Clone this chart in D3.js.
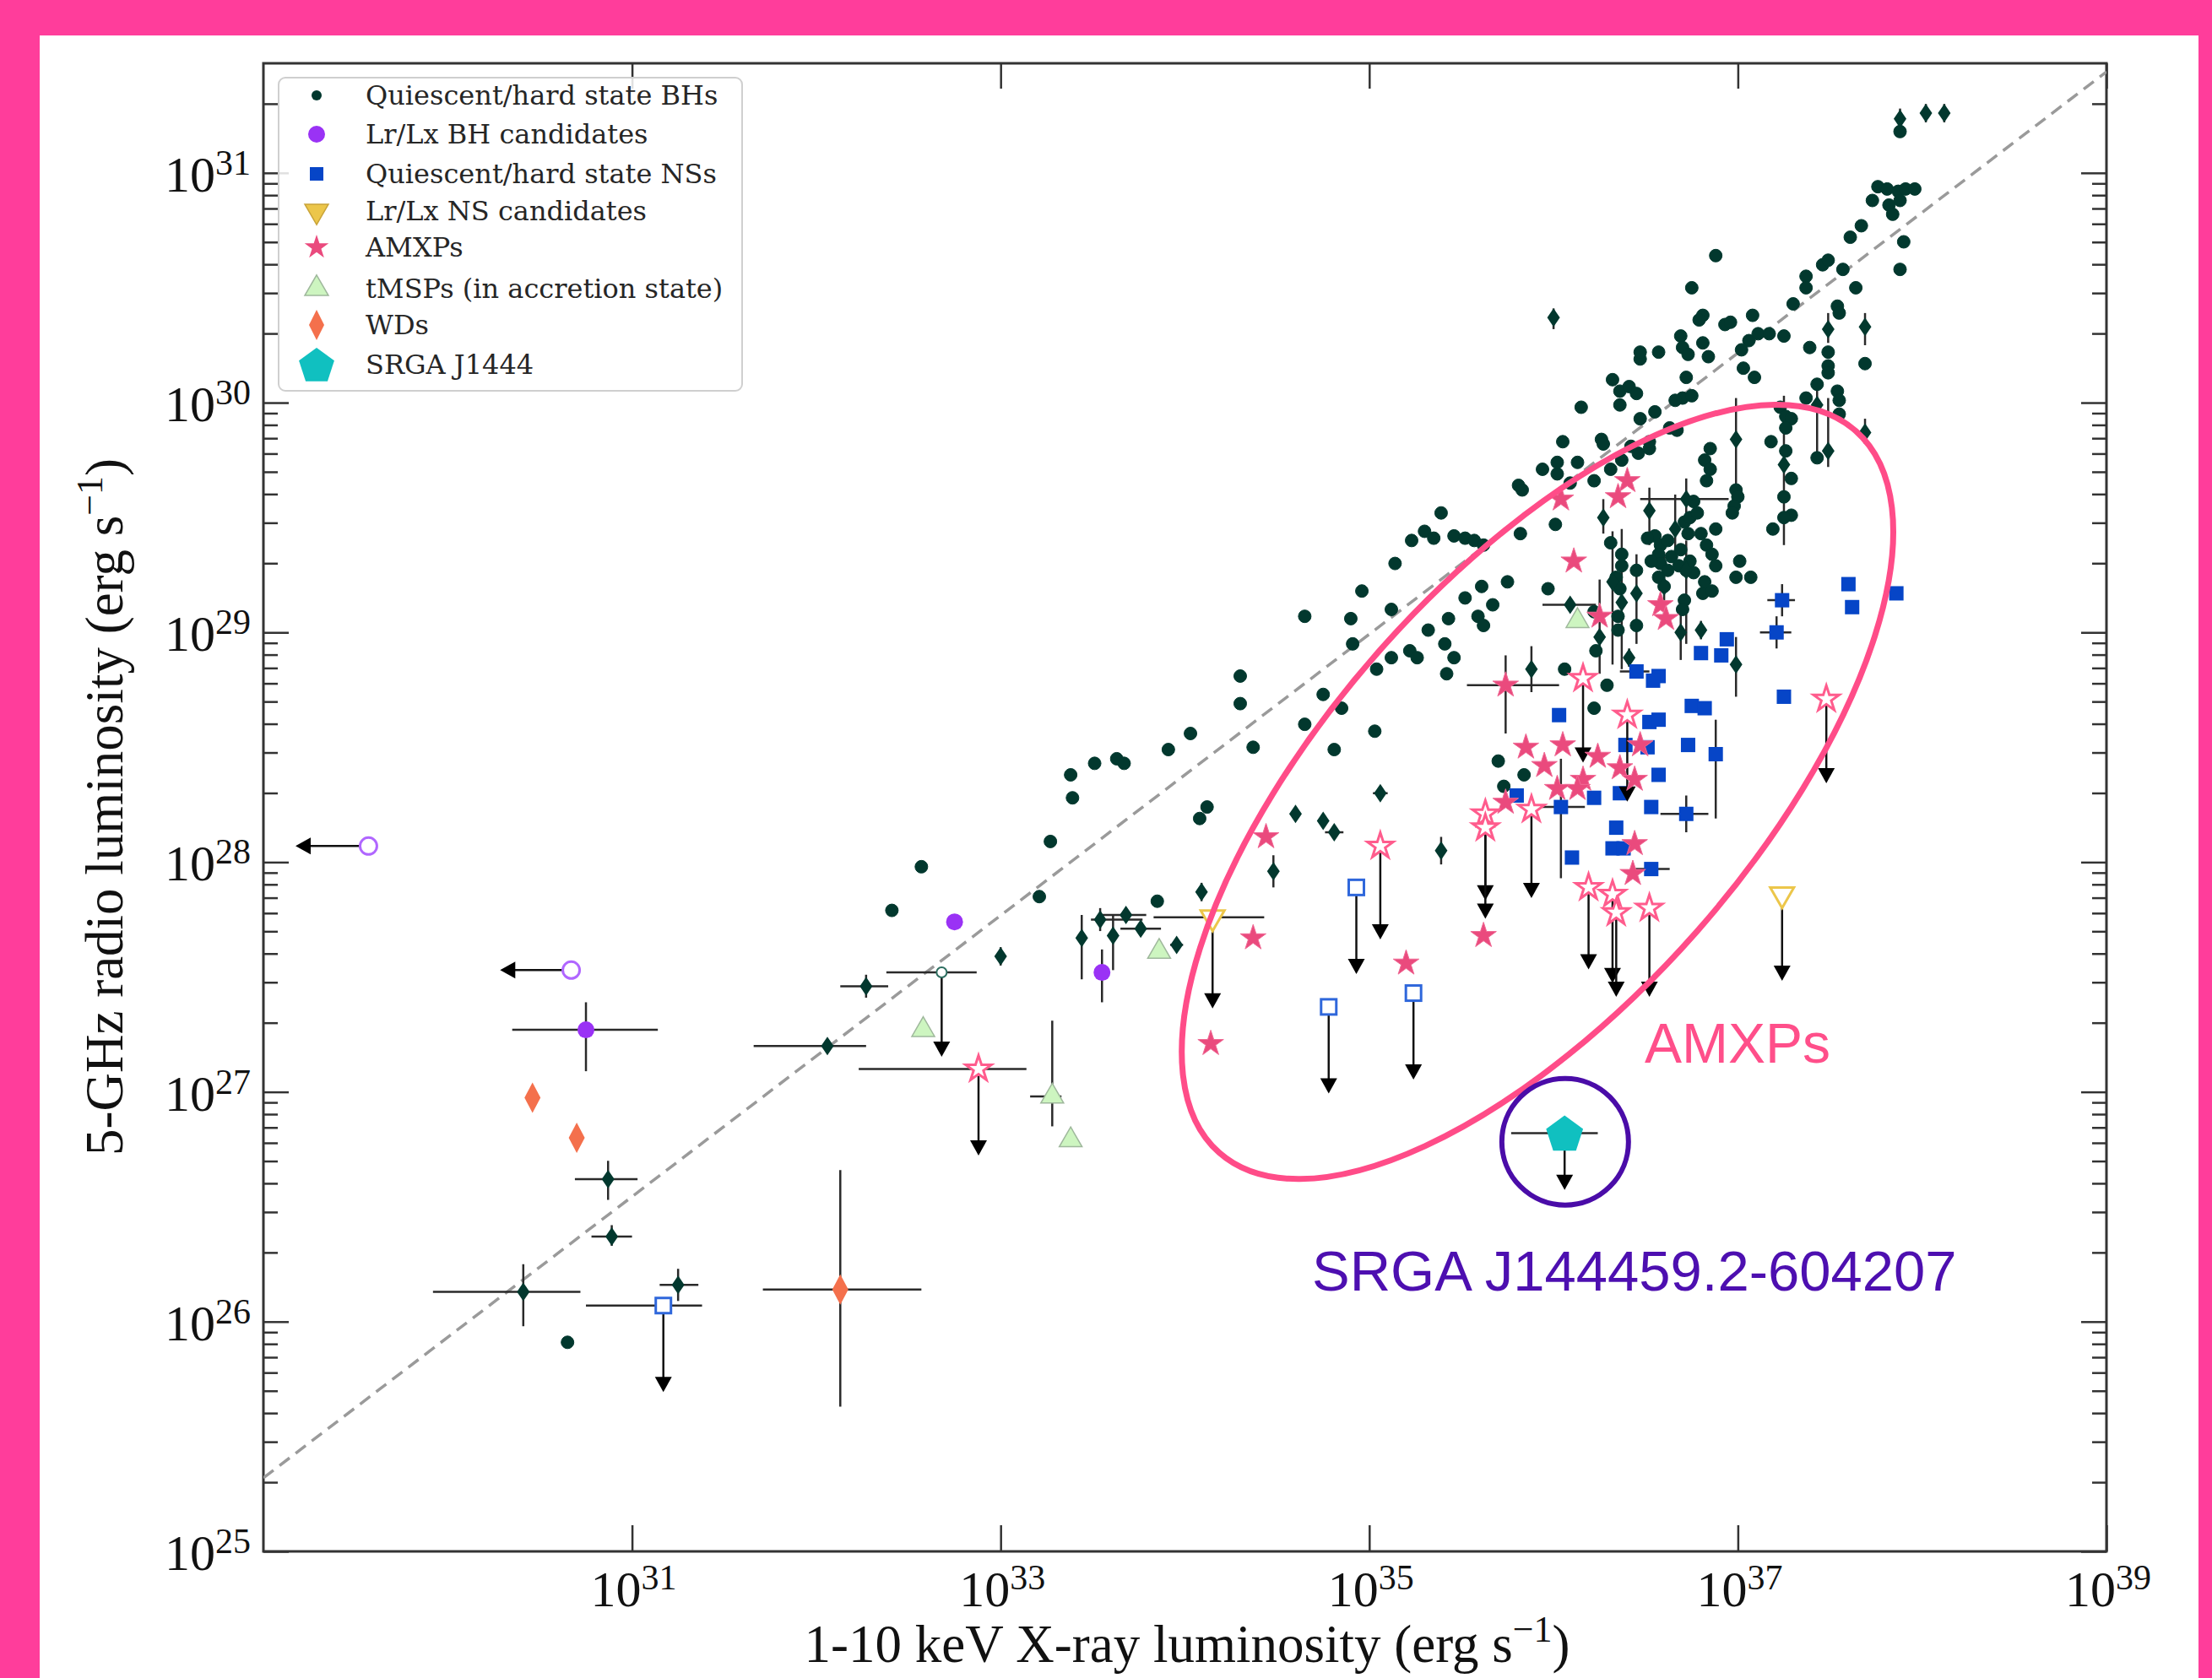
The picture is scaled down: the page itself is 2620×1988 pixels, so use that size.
<!DOCTYPE html>
<html>
<head>
<meta charset="utf-8">
<script src="https://cdn.jsdelivr.net/npm/d3@7"></script>
<style>
  body { margin: 0; background: #ff3d9b; }
  svg { display: block; }
</style>
</head>
<body>
<svg id="chart" width="2620" height="1988"></svg>
<script>
// ---- data (log10 of luminosities) ----
// [logLx, logLr]
const bhPoints = [
  [30.65,25.91],[32.41,27.79],[32.57,27.98],
  [33.21,27.85],[33.27,28.09],[33.38,28.38],[33.39,28.28],[33.51,28.43],[33.63,28.45],[33.67,28.43],[33.91,28.49],
  [34.03,28.56],[34.30,28.81],[34.30,28.69],[34.37,28.50],[34.12,28.24],[34.08,28.19],[33.85,27.83],
  [34.65,29.07],[34.90,29.06],[34.75,28.73],[34.85,28.67],[34.65,28.60],[34.81,28.49],[35.03,28.57],[34.91,28.95],
  [35.04,28.84],[35.12,28.89],[35.22,28.92],[35.26,28.89],[35.32,29.01],[35.12,29.10],[35.70,28.44],[35.73,28.33],[35.84,28.38],
  [35.30,29.44],[35.23,29.40],[35.35,29.41],[35.14,29.30],[34.96,29.18],
  [35.94,29.71],[36.02,29.74],[36.02,29.69],[36.09,29.65],[35.81,29.64],[35.83,29.62],[35.39,29.52],[35.46,29.42],
  [35.52,29.41],[35.57,29.40],[35.62,29.38],
  [36.13,29.74],[36.22,29.66],[36.31,29.71],[36.37,29.75],[36.42,29.81],[36.46,29.78],[36.52,29.80],
  [36.99,29.62],[37.00,29.59],[36.98,29.55],[36.97,29.52],[36.82,29.75],[36.85,29.71],[36.83,29.66],
  [37.26,29.79],[37.29,29.67],[37.25,29.59],[37.29,29.51],[37.25,29.50],[37.19,29.45],[37.43,29.76],
  [37.01,29.31],[36.99,29.24],[37.07,29.24],
  [36.55,29.42],[36.58,29.38],[36.62,29.40],[36.71,29.48],[36.74,29.50],[36.76,29.57],[36.78,29.52],[36.73,29.43],
  [36.80,29.43],[36.83,29.38],[36.88,29.45],[36.86,29.34],[36.88,29.29],[36.82,29.22],[36.81,29.17],[36.86,29.18],
  [36.57,29.34],[36.58,29.30],[36.62,29.27],[36.57,29.24],[36.60,29.20],[36.64,29.33],[36.69,29.36],[36.68,29.29],
  [36.72,29.27],[36.74,29.31],[36.76,29.26],[36.71,29.14],[36.70,29.10],[36.51,29.41],[36.53,29.31],
  [36.37,29.34],[36.37,29.29],[36.34,29.24],[36.36,29.19],[36.35,29.07],[36.35,29.01],[36.45,29.27],[36.45,29.03],
  [36.31,29.39],[36.22,29.09],[36.23,28.92],[36.29,28.77],[35.97,29.19],
  [36.01,29.47],[35.82,29.43],[35.75,29.22],[35.61,29.20],[35.67,29.12],[35.52,29.15],[35.43,29.06],[35.59,29.07],
  [35.62,29.03],[35.41,28.95],[35.46,28.89],[35.42,28.82],[36.06,28.84],[36.22,28.67],
  [37.88,31.18],
  [37.76,30.94],[37.81,30.93],[37.87,30.92],[37.91,30.93],[37.96,30.93],[37.73,30.88],[37.82,30.86],[37.88,30.88],
  [37.84,30.82],[37.90,30.70],[37.88,30.58],[37.67,30.77],[37.61,30.72],[36.88,30.64],
  [37.46,30.60],[37.49,30.62],[37.57,30.58],[37.64,30.50],[37.37,30.55],[37.37,30.50],[37.30,30.43],[36.75,30.50],
  [36.81,30.38],[36.79,30.36],[36.93,30.34],[36.96,30.35],[37.08,30.38],[37.06,30.27],[37.11,30.30],[37.17,30.30],
  [37.25,30.29],[37.39,30.24],[36.69,30.29],[36.70,30.24],[36.57,30.22],[36.47,30.19],[36.47,30.22],[36.73,30.21],
  [36.81,30.26],[36.84,30.20],[37.03,30.15],[37.09,30.11],[37.02,30.23],
  [37.49,30.22],[37.49,30.16],[37.49,30.13],[37.54,30.42],[37.55,30.39],[37.69,30.17],[37.37,30.02],
  [36.32,30.10],[36.36,30.05],[36.41,30.07],[36.45,30.04],[36.36,29.99],[36.15,29.98],[36.05,29.83],
  [36.72,30.11],[36.70,30.02],[36.66,30.01],[36.75,30.03],[36.55,29.96],[36.47,29.93],[36.52,29.83],
  [36.63,29.89],[36.67,29.88],[36.26,29.84],[36.27,29.82],
  [37.23,29.98],[37.26,29.94],[37.29,29.93],[37.26,29.89],[37.43,30.08],
  [37.54,30.05],[37.55,30.01],[37.55,29.95],[37.18,29.83],[36.85,29.80]
];
// [logLx, logLr, xlo, xhi, ylo, yhi]
const bhErr = [
  [30.87,26.62,30.69,31.03,26.53,26.70],[30.89,26.37,30.78,31.00,26.33,26.42],
  [30.41,26.13,29.92,30.72,25.98,26.25],[31.25,26.16,31.15,31.36,26.09,26.23],
  [32.06,27.20,31.66,32.27,27.20,27.20],[32.27,27.46,32.13,32.39,27.41,27.51],
  [33.00,27.59,33.00,33.00,27.55,27.63],[33.44,27.67,33.44,33.44,27.49,27.77],
  [33.54,27.75,33.49,33.77,27.70,27.80],[33.61,27.68,33.61,33.61,27.53,27.77],
  [33.68,27.77,33.55,33.79,27.77,27.77],[33.76,27.71,33.65,33.87,27.71,27.71],
  [33.955,27.64,33.92,33.99,27.64,27.64],[34.09,27.87,34.09,34.09,27.83,27.91],
  [34.48,27.96,34.48,34.48,27.89,28.03],[34.60,28.21,34.57,34.63,28.21,28.21],
  [34.75,28.18,34.75,34.75,28.15,28.21],[34.81,28.13,34.76,34.86,28.13,28.13],
  [35.06,28.30,35.02,35.10,28.30,28.30],[35.39,28.05,35.39,35.39,27.99,28.11],
  [36.00,30.37,36.00,36.00,30.32,30.41],[37.49,30.32,37.49,37.49,30.26,30.39],
  [37.69,30.33,37.69,37.69,30.25,30.39],[37.69,29.87,37.69,37.69,29.82,29.93],
  [36.99,29.84,36.99,36.99,29.56,30.02],[37.25,29.73,37.25,37.25,29.38,30.03],
  [37.43,29.99,37.43,37.43,29.76,30.08],[37.49,29.79,37.49,37.49,29.72,30.02],
  [36.52,29.53,36.52,36.52,29.38,29.63],[36.66,29.45,36.66,36.66,29.29,29.60],
  [36.37,29.13,36.37,36.37,28.84,29.45],[36.32,29.22,36.32,36.32,28.86,29.44],
  [36.25,28.98,36.25,36.25,28.82,29.23],[36.45,29.17,36.45,36.45,28.95,29.34],
  [36.27,29.50,36.27,36.27,29.43,29.58],[35.88,28.84,35.88,35.88,28.74,28.94],
  [36.09,29.12,35.94,36.23,29.12,29.12],[36.41,28.89,36.41,36.41,28.85,28.93],
  [36.80,29.01,36.80,36.80,28.97,29.05],[36.99,28.86,36.99,36.99,28.72,28.98],
  [36.69,29.00,36.69,36.69,28.88,29.14],[36.72,29.58,36.47,36.95,29.45,29.67],
  [36.60,29.20,36.60,36.60,29.05,29.35],[36.72,29.27,36.72,36.72,28.95,29.40],
  [37.88,31.235,37.88,37.88,31.19,31.28],[38.02,31.26,38.02,38.02,31.22,31.30],
  [38.12,31.26,38.12,38.12,31.22,31.30]
];
// open BH point with upper limit: [logLx, logLr, yEnd, xlo, xhi]
const bhLimits = [[32.68,27.52,27.19,32.38,32.87]];

const bhCandPoints = [[32.75,27.74]];
const bhCandErr = [[33.55,27.52,33.55,33.55,27.39,27.62],[30.75,27.27,30.35,31.14,27.09,27.39]];
// [logLx, logLr, xEnd] (limits in X)
const bhCandLimits = [[29.57,28.07,29.22],[30.67,27.53,30.33]];

const nsPoints = [
  [37.60,29.21],[37.62,29.11],[37.86,29.17],[36.94,28.97],[36.91,28.90],[36.80,28.91],[37.25,28.72],[36.57,28.81],
  [36.54,28.79],[36.75,28.68],[36.82,28.67],[36.03,28.64],[36.52,28.61],[36.57,28.62],[36.39,28.51],[36.51,28.50],
  [36.73,28.51],[36.57,28.38],[36.36,28.30],[36.53,28.24],[36.34,28.15],[36.32,28.06],[36.38,28.06],[36.10,28.02],
  [36.22,28.28],[35.80,28.29]
];
const nsErr = [
  [37.24,29.14,37.16,37.31,29.07,29.21],[37.21,29.00,37.12,37.29,28.93,29.07],
  [36.45,28.83,36.36,36.52,28.83,28.83],[36.88,28.47,36.88,36.88,28.19,28.62],
  [36.53,27.97,36.42,36.63,27.97,27.97],[36.72,28.21,36.58,36.84,28.13,28.29],
  [36.04,28.24,35.85,36.17,27.93,28.45]
];
// [logLx, logLr, yEnd, xlo, xhi]
const nsLimits = [[31.17,26.07,25.73,30.75,31.38],[34.93,27.89,27.55],[34.78,27.37,27.03],[35.24,27.43,27.09]];
const nsCandLimits = [[34.15,27.76,27.40,33.83,34.43],[37.24,27.86,27.52]];

const amxpPoints = [
  [34.44,28.11],[34.37,27.67],[34.14,27.21],[35.20,27.56],[35.62,27.68],
  [36.04,29.58],[36.40,29.66],[36.35,29.59],[36.11,29.31],[36.25,29.07],[36.58,29.12],[36.61,29.06],
  [36.47,28.51],[36.36,28.41],[36.44,28.36],[36.44,28.08],[36.43,27.95],
  [35.85,28.50],[35.95,28.42],[36.05,28.51],[36.16,28.36],[36.13,28.32],[36.02,28.32],[36.24,28.46],[35.74,28.26]
];
const amxpErr = [[35.74,28.77,35.53,36.03,28.56,28.90]];
const amxpLimits = [
  [32.88,27.10,26.76,32.23,33.14],[35.06,28.07,27.70],[35.63,28.21,27.87],[35.63,28.15,27.79],
  [35.88,28.23,27.88],[36.16,28.80,28.47],[36.40,28.64,28.30],[37.48,28.71,28.38],
  [36.19,27.89,27.57],[36.32,27.86,27.51],[36.34,27.78,27.45],[36.52,27.80,27.45]
];

const tmspPoints = [[32.58,27.27],[33.38,26.79],[33.86,27.61],[36.13,29.05]];
const tmspErr = [[33.28,26.98,33.16,33.33,26.85,27.31]];

const wdPoints = [[30.46,26.975],[30.70,26.80]];
const wdErr = [[32.13,26.14,31.71,32.57,25.63,26.66]];

// SRGA J1444: [logLx, logLr, yEnd, xlo, xhi]
const srgaPoint = [36.06,26.82,26.61,35.77,36.24];

const fitLogLx = [29, 39];
const fitLogLr = [25.32, 31.44];

const xTickExp = [31, 33, 35, 37, 39];
const yTickExp = [25, 26, 27, 28, 29, 30, 31];

const legendLabels = [
  "Quiescent/hard state BHs", "Lr/Lx BH candidates", "Quiescent/hard state NSs", "Lr/Lx NS candidates",
  "AMXPs", "tMSPs (in accretion state)", "WDs", "SRGA J1444"
];

// ---- layout ----
const svg = d3.select("#chart");
const plot = {left: 312, right: 2495, top: 75, bottom: 1838};
const xScale = d3.scaleLog().domain([1e29, 1e39]).range([plot.left, plot.right]);
const yScale = d3.scaleLog().domain([1e25, Math.pow(10, 31.477)]).range([plot.bottom, plot.top]);
const X = v => xScale(Math.pow(10, v));
const Y = v => yScale(Math.pow(10, v));

const C = {
  bh: "#02382e", bhCand: "#9a32f5", bhCandOpen: "#b066ff", ns: "#0645c7", nsOpen: "#2f67db",
  gold: "#ecc64a", amxp: "#ea4a7d", amxpOpen: "#ff5c8d", tmsp: "#cdf5c0", tmspEdge: "#9fb89c",
  wd: "#f4704c", srga: "#10c0c0", err: "#2a2a2a"
};

svg.append("rect").attr("width", 2620).attr("height", 1988).attr("fill", "#ff3d9b");
svg.append("rect").attr("x", 47).attr("y", 42).attr("width", 2557).attr("height", 1946).attr("fill", "#fff");

svg.append("clipPath").attr("id", "clip").append("rect")
  .attr("x", plot.left).attr("y", plot.top)
  .attr("width", plot.right - plot.left).attr("height", plot.bottom - plot.top);

// ---- axes ----
const yMajor = yTickExp.map(e => Math.pow(10, e));
const yMinor = [];
for (let e = 25; e <= 31; e++) for (let m = 2; m <= 9; m++) {
  const v = m * Math.pow(10, e);
  if (v < yScale.domain()[1]) yMinor.push(v);
}
const xMajor = xTickExp.map(e => Math.pow(10, e));

function styleAxis(g) {
  g.select(".domain").remove();
  g.selectAll("line").attr("stroke", "#333").attr("stroke-width", 2.5);
}
svg.append("g").attr("transform", `translate(0,${plot.bottom})`)
  .call(d3.axisBottom(xScale).tickValues(xMajor).tickSizeInner(-31).tickSizeOuter(0).tickFormat(""))
  .call(styleAxis);
svg.append("g").attr("transform", `translate(0,${plot.top})`)
  .call(d3.axisTop(xScale).tickValues(xMajor).tickSizeInner(-30).tickSizeOuter(0).tickFormat(""))
  .call(styleAxis);
[[d3.axisLeft, plot.left], [d3.axisRight, plot.right]].forEach(([ax, pos]) => {
  svg.append("g").attr("transform", `translate(${pos},0)`)
    .call(ax(yScale).tickValues(yMajor).tickSizeInner(-30).tickSizeOuter(0).tickFormat(""))
    .call(styleAxis);
  svg.append("g").attr("transform", `translate(${pos},0)`)
    .call(ax(yScale).tickValues(yMinor).tickSizeInner(-17).tickSizeOuter(0).tickFormat(""))
    .call(styleAxis);
});

svg.append("rect")
  .attr("x", plot.left).attr("y", plot.top)
  .attr("width", plot.right - plot.left).attr("height", plot.bottom - plot.top)
  .attr("fill", "none").attr("stroke", "#333").attr("stroke-width", 3);

const tickFont = "'Liberation Serif', 'Times New Roman', serif";
function powLabel(sel, exp) {
  sel.append("tspan").text("10");
  sel.append("tspan").attr("font-size", 42).attr("dy", -20).text(exp);
}
xTickExp.forEach(e => {
  svg.append("text").attr("x", X(e) + 2).attr("y", 1903)
    .attr("text-anchor", "middle").attr("font-family", tickFont).attr("font-size", 60).attr("fill", "#111")
    .call(powLabel, e);
});
yTickExp.forEach(e => {
  svg.append("text").attr("x", 297).attr("y", Y(e) + 22)
    .attr("text-anchor", "end").attr("font-family", tickFont).attr("font-size", 60).attr("fill", "#111")
    .call(powLabel, e);
});

function axisLabel(text, x, y, rotate) {
  const t = svg.append("text").attr("text-anchor", "middle")
    .attr("transform", `translate(${x},${y})` + (rotate ? " rotate(-90)" : ""))
    .attr("font-family", tickFont).attr("font-size", 63).attr("fill", "#111");
  t.append("tspan").text(text);
  t.append("tspan").attr("font-size", 44).attr("dy", -24).text("\u22121");
  t.append("tspan").attr("dy", 24).text(")");
}
axisLabel("1-10 keV X-ray luminosity (erg s", 1406, 1969, false);
axisLabel("5-GHz radio luminosity (erg s", 145, 956, true);

// ---- marks ----
const fitLine = d3.line().x(d => X(d[0])).y(d => Y(d[1]));
svg.append("path").attr("clip-path", "url(#clip)")
  .attr("d", fitLine(d3.zip(fitLogLx, fitLogLr)))
  .attr("fill", "none").attr("stroke", "#9a9a9a").attr("stroke-width", 3.5).attr("stroke-dasharray", "15,9");

const marks = svg.append("g");

function errLines(data, color) {
  const g = marks.append("g").attr("stroke", color || C.err).attr("stroke-width", 2.5);
  data.forEach(d => {
    if (d[2] !== d[3]) g.append("line").attr("x1", X(d[2])).attr("x2", X(d[3])).attr("y1", Y(d[1])).attr("y2", Y(d[1]));
    if (d[4] !== d[5]) g.append("line").attr("x1", X(d[0])).attr("x2", X(d[0])).attr("y1", Y(d[4])).attr("y2", Y(d[5]));
  });
}
function downArrows(data) {
  const g = marks.append("g");
  data.forEach(d => {
    const x = X(d[0]);
    if (d.length > 3) g.append("line").attr("x1", X(d[3])).attr("x2", X(d[4])).attr("y1", Y(d[1])).attr("y2", Y(d[1]))
      .attr("stroke", C.err).attr("stroke-width", 2.5);
    g.append("line").attr("x1", x).attr("x2", x).attr("y1", Y(d[1])).attr("y2", Y(d[2]) - 4)
      .attr("stroke", "#111").attr("stroke-width", 2.5);
    const ye = Y(d[2]);
    g.append("path").attr("d", `M${x - 10},${ye - 8}L${x + 10},${ye - 8}L${x},${ye + 10}Z`).attr("fill", "#000");
  });
}

const starPath = R => d3.symbol().type(d3.symbolStar).size(R * R / 0.8908130915292852)();
const triPath = side => d3.symbol().type(d3.symbolTriangle).size(Math.pow(side / (2 * Math.sqrt(3)), 2) * 3 * Math.sqrt(3))();
const diamondPath = (w, h) => `M0,${-h}L${w},0L0,${h}L${-w},0Z`;
const pentagonPath = r => "M" + d3.range(5).map(k => {
  const a = -Math.PI / 2 + k * 2 * Math.PI / 5;
  return [r * Math.cos(a), r * Math.sin(a) + 2].join(",");
}).join("L") + "Z";

function symbols(data, path, attrs, rotate) {
  const s = marks.append("g").selectAll("path").data(data).join("path")
    .attr("d", path)
    .attr("transform", d => `translate(${X(d[0])},${Y(d[1])})` + (rotate ? ` rotate(${rotate})` : ""));
  Object.entries(attrs).forEach(([k, v]) => s.attr(k, v));
}
function circles(data, r, attrs) {
  const s = marks.append("g").selectAll("circle").data(data).join("circle")
    .attr("cx", d => X(d[0])).attr("cy", d => Y(d[1])).attr("r", r);
  Object.entries(attrs).forEach(([k, v]) => s.attr(k, v));
}
function squares(data, side, attrs) {
  const s = marks.append("g").selectAll("rect").data(data).join("rect")
    .attr("x", d => X(d[0]) - side / 2).attr("y", d => Y(d[1]) - side / 2)
    .attr("width", side).attr("height", side);
  Object.entries(attrs).forEach(([k, v]) => s.attr(k, v));
}

// black holes
errLines(bhErr);
downArrows(bhLimits);
circles(bhPoints, 7.5, {fill: C.bh, stroke: C.bh, "stroke-width": 1});
symbols(bhErr, diamondPath(7.5, 11), {fill: C.bh});
circles(bhLimits, 6, {fill: "#fff", stroke: "#2d6e60", "stroke-width": 2});

// BH candidates
errLines(bhCandErr);
circles(bhCandPoints.concat(bhCandErr), 10, {fill: C.bhCand});
bhCandLimits.forEach(d => {
  const y = Y(d[1]), xe = X(d[2]);
  marks.append("line").attr("x1", X(d[0])).attr("x2", xe + 4).attr("y1", y).attr("y2", y)
    .attr("stroke", "#111").attr("stroke-width", 2.5);
  marks.append("path").attr("d", `M${xe + 8},${y - 10}L${xe + 8},${y + 10}L${xe - 10},${y}Z`).attr("fill", "#000");
});
circles(bhCandLimits, 10, {fill: "#fff", stroke: C.bhCandOpen, "stroke-width": 3});

// neutron stars
errLines(nsErr);
squares(nsPoints.concat(nsErr), 17, {fill: C.ns});
downArrows(nsLimits);
squares(nsLimits, 18, {fill: "#fff", stroke: C.nsOpen, "stroke-width": 3});
downArrows(nsCandLimits);
symbols(nsCandLimits, triPath(28), {fill: "#fff", stroke: C.gold, "stroke-width": 3}, 180);

// AMXPs
errLines(amxpErr);
downArrows(amxpLimits);
symbols(amxpPoints.concat(amxpErr), starPath(16), {fill: C.amxp, stroke: "#f06a95", "stroke-width": 1});
symbols(amxpLimits, starPath(16), {fill: "#fff", stroke: C.amxpOpen, "stroke-width": 3});

// tMSPs
errLines(tmspErr);
symbols(tmspPoints.concat(tmspErr), triPath(27), {fill: C.tmsp, stroke: C.tmspEdge, "stroke-width": 1.5});

// WDs
errLines(wdErr);
symbols(wdPoints.concat(wdErr), diamondPath(9.5, 18), {fill: C.wd});

// SRGA J1444
downArrows([srgaPoint]);
symbols([srgaPoint], pentagonPath(23), {fill: C.srga});

// ---- annotations ----
const ell = [35.913, 28.306];
svg.append("ellipse")
  .attr("transform", `translate(${X(ell[0])},${Y(ell[1])}) rotate(-48.6)`)
  .attr("rx", 570).attr("ry", 251)
  .attr("fill", "none").attr("stroke", "#ff4c88").attr("stroke-width", 7);
svg.append("circle")
  .attr("cx", X(36.063)).attr("cy", Y(26.783)).attr("r", 75)
  .attr("fill", "none").attr("stroke", "#4a0ca8").attr("stroke-width", 6);

const sans = "'Liberation Sans', Arial, Helvetica, sans-serif";
svg.append("text").attr("x", 1948).attr("y", 1259)
  .attr("font-family", sans).attr("font-size", 66).attr("fill", "#ff4f8a").text("AMXPs");
svg.append("text").attr("x", 1554).attr("y", 1529)
  .attr("font-family", sans).attr("font-size", 67).attr("fill", "#4d0fb0").text("SRGA J144459.2-604207");

// ---- legend ----
const leg = svg.append("g");
leg.append("rect").attr("x", 330).attr("y", 92).attr("width", 549).attr("height", 371).attr("rx", 8)
  .attr("fill", "#fff").attr("fill-opacity", 0.85).attr("stroke", "#cfcfcf").attr("stroke-width", 2);
const rowY = [113, 159, 206, 250, 293, 342, 385, 432];
const legMarks = [
  g => g.append("circle").attr("r", 6).attr("fill", C.bh),
  g => g.append("circle").attr("r", 10).attr("fill", C.bhCand),
  g => g.append("rect").attr("x", -8).attr("y", -8).attr("width", 16).attr("height", 16).attr("fill", C.ns),
  g => g.append("path").attr("d", triPath(28)).attr("transform", "rotate(180)").attr("fill", C.gold).attr("stroke", "#c9a43a").attr("stroke-width", 1.5),
  g => g.append("path").attr("d", starPath(15)).attr("fill", C.amxp),
  g => g.append("path").attr("d", triPath(28)).attr("fill", C.tmsp).attr("stroke", C.tmspEdge).attr("stroke-width", 1.5),
  g => g.append("path").attr("d", diamondPath(9, 18)).attr("fill", C.wd),
  g => g.append("path").attr("d", pentagonPath(22)).attr("fill", C.srga)
];
legendLabels.forEach((label, i) => {
  const g = leg.append("g").attr("transform", `translate(375,${rowY[i]})`);
  legMarks[i](g);
  leg.append("text").attr("x", 433).attr("y", rowY[i] + 11)
    .attr("font-family", "'DejaVu Serif', serif").attr("font-size", 32).attr("fill", "#262626").text(label);
});
</script>
</body>
</html>
